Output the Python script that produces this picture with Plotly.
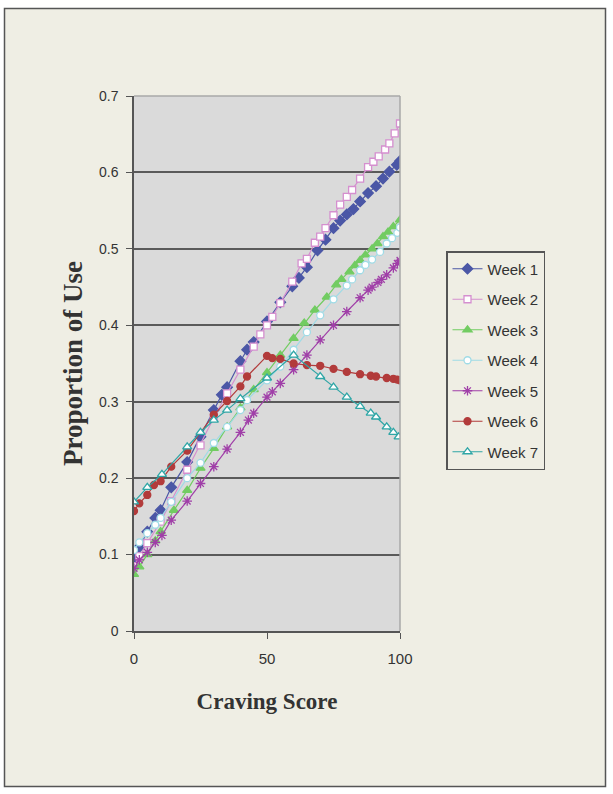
import plotly.graph_objects as go

series_names = ["Week 1", "Week 2", "Week 3", "Week 4", "Week 5", "Week 6", "Week 7"]

w1_x = [0, 2, 5, 8, 10, 14, 20, 25, 30, 33, 35, 40, 42.5, 45, 50, 55, 59.5, 62, 65, 69, 72, 75, 77.5, 80, 82.5, 85, 88, 91, 93.6, 96, 98.8, 100]
w1_y = [0.095, 0.11, 0.13, 0.148, 0.158, 0.188, 0.221, 0.254, 0.289, 0.309, 0.319, 0.353, 0.368, 0.378, 0.405, 0.43, 0.451, 0.462, 0.476, 0.498, 0.512, 0.527, 0.537, 0.545, 0.552, 0.562, 0.573, 0.582, 0.592, 0.601, 0.61, 0.615]

w2_x = [0, 2, 5, 10, 14, 20, 25, 30, 35, 40, 45, 47.5, 50, 52, 55, 59.5, 63, 65, 68, 70, 72, 75, 77.5, 80, 82, 85, 88, 90, 92, 94.4, 96, 98, 100]
w2_y = [0.085, 0.098, 0.115, 0.143, 0.17, 0.211, 0.243, 0.279, 0.311, 0.342, 0.372, 0.388, 0.40, 0.411, 0.429, 0.457, 0.481, 0.487, 0.508, 0.516, 0.527, 0.544, 0.558, 0.568, 0.577, 0.592, 0.607, 0.614, 0.621, 0.63, 0.638, 0.651, 0.664]

w3_x = [0, 2, 5, 8, 10, 15, 20, 25, 30, 35, 40, 45, 50, 55, 60, 64, 68, 72.5, 76, 78, 81, 83, 85, 87, 89.5, 91.5, 93.6, 95.5, 97.5, 100]
w3_y = [0.074, 0.084, 0.1, 0.118, 0.13, 0.158, 0.184, 0.213, 0.239, 0.267, 0.292, 0.316, 0.338, 0.361, 0.383, 0.403, 0.42, 0.437, 0.453, 0.46, 0.47, 0.478, 0.485, 0.492, 0.5, 0.507, 0.516, 0.522, 0.529, 0.538]

w4_x = [0, 2, 5, 8, 10, 14, 20, 25, 30, 35, 40, 42.5, 50, 55, 60, 65, 70, 75, 80, 82, 85, 87, 89.5, 92.5, 95, 97, 99, 100]
w4_y = [0.106, 0.116, 0.128, 0.139, 0.148, 0.169, 0.2, 0.22, 0.246, 0.267, 0.289, 0.302, 0.328, 0.346, 0.368, 0.391, 0.413, 0.434, 0.452, 0.46, 0.472, 0.479, 0.486, 0.496, 0.507, 0.514, 0.521, 0.528]

w5_x = [0, 2, 5, 8, 10.5, 14, 20, 25, 30, 35, 40, 43, 45, 50, 52, 55, 60, 65, 70, 75, 80, 85, 88, 89.5, 91.7, 93, 95, 97.5, 99, 100]
w5_y = [0.082, 0.093, 0.103, 0.116, 0.125, 0.145, 0.17, 0.193, 0.215, 0.238, 0.26, 0.276, 0.285, 0.306, 0.313, 0.324, 0.342, 0.361, 0.381, 0.40, 0.418, 0.436, 0.446, 0.45, 0.456, 0.46, 0.466, 0.475, 0.481, 0.485]

w6_x = [0, 2, 5, 7.5, 10, 14, 20, 30, 35, 40, 42.5, 50, 52, 55, 60, 65, 70, 75, 80, 85, 89, 91, 95, 97.5, 99, 100]
w6_y = [0.157, 0.167, 0.178, 0.191, 0.196, 0.215, 0.236, 0.283, 0.301, 0.32, 0.333, 0.36, 0.357, 0.356, 0.35, 0.348, 0.347, 0.343, 0.339, 0.336, 0.334, 0.333, 0.331, 0.33, 0.329, 0.328]

w7_x = [0, 5, 10.5, 20, 25, 30, 35, 40, 50, 60, 70, 75, 80, 85, 89, 91, 95, 97.5, 99.5]
w7_y = [0.169, 0.188, 0.205, 0.241, 0.26, 0.276, 0.289, 0.304, 0.331, 0.361, 0.333, 0.319, 0.306, 0.294, 0.285, 0.28, 0.267, 0.26, 0.254]

y_ticks = [0, 0.1, 0.2, 0.3, 0.4, 0.5, 0.6, 0.7]
y_tick_labels = ["0", "0.1", "0.2", "0.3", "0.4", "0.5", "0.6", "0.7"]
x_ticks = [0, 50, 100]
x_tick_labels = ["0", "50", "100"]

xs = [w1_x, w2_x, w3_x, w4_x, w5_x, w6_x, w7_x]
ys = [w1_y, w2_y, w3_y, w4_y, w5_y, w6_y, w7_y]

styles = [
    dict(color="#4b57a6", symbol="diamond", fill="#4b57a6", size=8),
    dict(color="#d58fcf", symbol="square", fill="#ffffff", size=7),
    dict(color="#72cc62", symbol="triangle-up", fill="#72cc62", size=8),
    dict(color="#9fdbe6", symbol="circle", fill="#ffffff", size=7),
    dict(color="#a03fa8", symbol="asterisk-open", fill="#a03fa8", size=8),
    dict(color="#b23b3b", symbol="circle", fill="#b23b3b", size=7),
    dict(color="#2fa6a6", symbol="triangle-up", fill="#ffffff", size=8),
]

fig = go.Figure()
for name, x, y, st in zip(series_names, xs, ys, styles):
    fig.add_trace(go.Scatter(
        x=x, y=y, name=name, mode="lines+markers", legendgroup=name,
        line=dict(color=st["color"], width=1.2),
        marker=dict(symbol=st["symbol"], size=st["size"], color=st["fill"],
                    line=dict(color=st["color"], width=1.3)),
    ))

W, H = 613, 794
L, R, T, B = 134, 400, 96, 631
pw, ph = R - L, B - T

def px(xp):
    return (xp - L) / pw

def py(yp):
    return (B - yp) / ph

shapes = []
# white strips outside the outer frame
for (x0, y0, x1, y1) in [(0, 0, W, 8), (0, 787, W, H), (0, 0, 4, H), (606, 0, W, H)]:
    shapes.append(dict(type="rect", xref="paper", yref="paper", layer="above",
                       x0=px(x0), x1=px(x1), y0=py(y1), y1=py(y0),
                       fillcolor="white", line=dict(width=0)))
# outer frame
shapes.append(dict(type="rect", xref="paper", yref="paper", layer="above",
                   x0=px(4.5), x1=px(605.5), y0=py(786.5), y1=py(8.5),
                   line=dict(color="#555555", width=1.5)))
# light top/right border of plot area
shapes.append(dict(type="line", xref="paper", yref="paper", layer="above",
                   x0=0, x1=1, y0=1, y1=1, line=dict(color="#a8a8a8", width=1.5)))
shapes.append(dict(type="line", xref="paper", yref="paper", layer="above",
                   x0=1, x1=1, y0=0, y1=1, line=dict(color="#a8a8a8", width=1.5)))

fig.update_layout(
    width=W, height=H,
    margin=dict(l=L, r=W - R, t=T, b=H - B),
    paper_bgcolor="#efeee4",
    plot_bgcolor="#dadada",
    font=dict(family="Liberation Sans, Arial", size=13, color="#333333"),
    showlegend=True,
    legend=dict(
        x=px(446), y=py(251), xanchor="left", yanchor="top",
        bgcolor="#efeee4", bordercolor="#555555", borderwidth=1.5,
        font=dict(family="Liberation Sans, Arial", size=15, color="#333333"),
        tracegroupgap=8, itemwidth=30,
    ),
    shapes=shapes,
    xaxis=dict(
        range=[0, 100], tickvals=x_ticks, ticktext=x_tick_labels,
        showgrid=False, zeroline=False, showline=True, linecolor="#555555", linewidth=1.5,
        ticks="outside", ticklen=6, tickcolor="#555555", tickwidth=1.2,
        ticklabelstandoff=7,
        tickfont=dict(size=15, color="#333333"),
        title=dict(text="<b>Craving Score</b>", standoff=27,
                   font=dict(family="Liberation Serif, Times New Roman", size=23, color="#333333")),
    ),
    yaxis=dict(
        range=[0, 0.7], tickvals=y_ticks, ticktext=y_tick_labels,
        showgrid=True, gridcolor="#5a5a5a", gridwidth=1.6,
        zeroline=False, showline=True, linecolor="#555555", linewidth=1.5,
        ticks="outside", ticklen=6, tickcolor="#555555", tickwidth=1.2,
        ticklabelstandoff=5,
        tickfont=dict(size=14, color="#333333"),
        title=dict(text="<b>Proportion of Use</b>", standoff=9,
                   font=dict(family="Liberation Serif, Times New Roman", size=27, color="#333333")),
    ),
)

fig.write_html("out.html", config={"displayModeBar": False},
               post_script="document.body.style.margin='0';")
